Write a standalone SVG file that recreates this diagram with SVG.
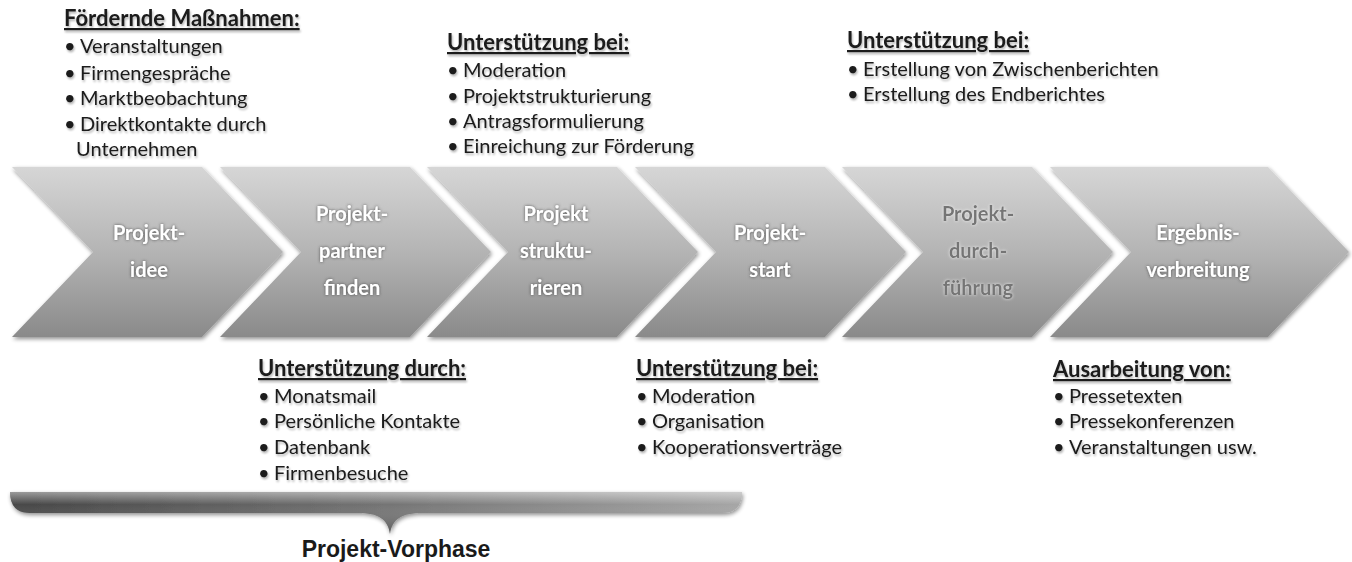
<svg xmlns="http://www.w3.org/2000/svg" width="1352" height="562" viewBox="0 0 1352 562">
<defs>
<style>
.chev{fill:url(#chevGrad);filter:url(#shadow);}
.lbl{font-family:Lato,"Liberation Sans",sans-serif;font-weight:bold;font-size:20px;fill:#ffffff;text-anchor:middle;filter:url(#darkGlow);}
.lbl.gray{fill:#747474;filter:url(#lightGlow);}
.note{font-family:Lato,"Liberation Sans",sans-serif;font-size:20px;fill:#1a1a1a;filter:url(#txtShadow);}
.head{font-weight:bold;font-size:22px;text-decoration:underline;}
.phase{font-family:"Liberation Sans",Arial,sans-serif;font-weight:bold;font-size:23px;fill:#1a1a1a;text-anchor:middle;}
</style>
<linearGradient id="chevGrad" x1="0" y1="0" x2="0" y2="1">
<stop offset="0" stop-color="#d6d6d6"/>
<stop offset="0.5" stop-color="#b4b4b4"/>
<stop offset="1" stop-color="#8a8a8a"/>
</linearGradient>
<linearGradient id="braceH" x1="0" y1="0" x2="1" y2="0">
<stop offset="0" stop-color="#474747"/>
<stop offset="0.5" stop-color="#737373"/>
<stop offset="1" stop-color="#a6a6a6"/>
</linearGradient>
<linearGradient id="braceV" x1="0" y1="0" x2="0" y2="1">
<stop offset="0" stop-color="#ffffff" stop-opacity="0.45"/>
<stop offset="0.3" stop-color="#ffffff" stop-opacity="0"/>
<stop offset="1" stop-color="#000000" stop-opacity="0.3"/>
</linearGradient>
<filter id="shadow" x="-10%" y="-10%" width="125%" height="130%">
<feGaussianBlur in="SourceAlpha" stdDeviation="2"/>
<feOffset dx="1" dy="2" result="b"/>
<feComponentTransfer in="b" result="s"><feFuncA type="linear" slope="0.45"/></feComponentTransfer>
<feMerge><feMergeNode in="s"/><feMergeNode in="SourceGraphic"/></feMerge>
</filter>
<filter id="darkGlow" x="-20%" y="-40%" width="140%" height="180%">
<feGaussianBlur in="SourceAlpha" stdDeviation="1.8" result="b"/>
<feFlood flood-color="#3a3a3a" flood-opacity="0.85"/>
<feComposite in2="b" operator="in" result="g"/>
<feMerge><feMergeNode in="g"/><feMergeNode in="SourceGraphic"/></feMerge>
</filter>
<filter id="lightGlow" x="-20%" y="-40%" width="140%" height="180%">
<feGaussianBlur in="SourceAlpha" stdDeviation="1.6" result="b"/>
<feFlood flood-color="#ffffff" flood-opacity="0.8"/>
<feComposite in2="b" operator="in" result="g"/>
<feMerge><feMergeNode in="g"/><feMergeNode in="SourceGraphic"/></feMerge>
</filter>
<filter id="txtShadow" x="-5%" y="-20%" width="110%" height="150%">
<feGaussianBlur in="SourceAlpha" stdDeviation="0.8"/>
<feOffset dx="1" dy="1.5" result="b"/>
<feComponentTransfer in="b" result="s"><feFuncA type="linear" slope="0.3"/></feComponentTransfer>
<feMerge><feMergeNode in="s"/><feMergeNode in="SourceGraphic"/></feMerge>
</filter>
</defs>
<rect width="1352" height="562" fill="#ffffff"/>

<g id="chevron-projektidee">
<polygon class="chev" points="12,167 202,167 283,252 202,337 12,337 93,252"/>
<text class="lbl" x="149" y="240">Projekt-</text>
<text class="lbl" x="149" y="277">idee</text>
</g>
<g id="chevron-projektpartner">
<polygon class="chev" points="220,167 410,167 491,252 410,337 220,337 301,252"/>
<text class="lbl" x="352" y="221">Projekt-</text>
<text class="lbl" x="352" y="258">partner</text>
<text class="lbl" x="352" y="295">finden</text>
</g>
<g id="chevron-strukturieren">
<polygon class="chev" points="427,167 617,167 698,252 617,337 427,337 508,252"/>
<text class="lbl" x="556" y="221">Projekt</text>
<text class="lbl" x="556" y="258">struktu-</text>
<text class="lbl" x="556" y="295">rieren</text>
</g>
<g id="chevron-projektstart">
<polygon class="chev" points="635,167 825,167 906,252 825,337 635,337 716,252"/>
<text class="lbl" x="770" y="240">Projekt-</text>
<text class="lbl" x="770" y="277">start</text>
</g>
<g id="chevron-durchfuehrung">
<polygon class="chev" points="842,167 1032,167 1113,252 1032,337 842,337 923,252"/>
<text class="lbl gray" x="978" y="221">Projekt-</text>
<text class="lbl gray" x="978" y="258">durch-</text>
<text class="lbl gray" x="978" y="295">führung</text>
</g>
<g id="chevron-ergebnis">
<polygon class="chev" points="1050,167 1268,167 1349,252 1268,337 1050,337 1131,252"/>
<text class="lbl" x="1198" y="240">Ergebnis-</text>
<text class="lbl" x="1198" y="277">verbreitung</text>
</g>

<g id="note-foerdernde-massnahmen">
<text class="note head" x="64" y="26">Fördernde Maßnahmen:</text>
<text class="note" x="64" y="53">•</text><text class="note" x="80" y="53">Veranstaltungen</text>
<text class="note" x="64" y="80">•</text><text class="note" x="80" y="80">Firmengespräche</text>
<text class="note" x="64" y="105">•</text><text class="note" x="80" y="105">Marktbeobachtung</text>
<text class="note" x="64" y="131">•</text><text class="note" x="80" y="131">Direktkontakte durch</text>
<text class="note" x="76" y="156">Unternehmen</text>
</g>

<g id="note-strukturieren">
<text class="note head" x="447" y="50">Unterstützung bei:</text>
<text class="note" x="447" y="77">•</text><text class="note" x="463" y="77">Moderation</text>
<text class="note" x="447" y="103">•</text><text class="note" x="463" y="103">Projektstrukturierung</text>
<text class="note" x="447" y="128">•</text><text class="note" x="463" y="128">Antragsformulierung</text>
<text class="note" x="447" y="153">•</text><text class="note" x="463" y="153">Einreichung zur Förderung</text>
</g>

<g id="note-durchfuehrung">
<text class="note head" x="847" y="48">Unterstützung bei:</text>
<text class="note" x="847" y="76">•</text><text class="note" x="863" y="76">Erstellung von Zwischenberichten</text>
<text class="note" x="847" y="101">•</text><text class="note" x="863" y="101">Erstellung des Endberichtes</text>
</g>

<g id="note-partner">
<text class="note head" x="258" y="376">Unterstützung durch:</text>
<text class="note" x="258" y="403">•</text><text class="note" x="274" y="403">Monatsmail</text>
<text class="note" x="258" y="428">•</text><text class="note" x="274" y="428">Persönliche Kontakte</text>
<text class="note" x="258" y="454">•</text><text class="note" x="274" y="454">Datenbank</text>
<text class="note" x="258" y="480">•</text><text class="note" x="274" y="480">Firmenbesuche</text>
</g>

<g id="note-start">
<text class="note head" x="636" y="376">Unterstützung bei:</text>
<text class="note" x="636" y="403">•</text><text class="note" x="652" y="403">Moderation</text>
<text class="note" x="636" y="428">•</text><text class="note" x="652" y="428">Organisation</text>
<text class="note" x="636" y="454">•</text><text class="note" x="652" y="454">Kooperationsverträge</text>
</g>

<g id="note-ergebnis">
<text class="note head" x="1053" y="377">Ausarbeitung von:</text>
<text class="note" x="1053" y="403">•</text><text class="note" x="1069" y="403">Pressetexten</text>
<text class="note" x="1053" y="428">•</text><text class="note" x="1069" y="428">Pressekonferenzen</text>
<text class="note" x="1053" y="454">•</text><text class="note" x="1069" y="454">Veranstaltungen usw.</text>
</g>

<g id="vorphase-brace">
<path d="M10,492 H742 Q742,513 722,513 H422 C402,513 392,519 390,534 C388,519 378,513 358,513 H30 Q10,513 10,492 Z" fill="url(#braceH)" filter="url(#shadow)"/>
<path d="M10,492 H742 Q742,513 722,513 H422 C402,513 392,519 390,534 C388,519 378,513 358,513 H30 Q10,513 10,492 Z" fill="url(#braceV)"/>
<text class="phase" x="396" y="557">Projekt-Vorphase</text>
</g>
</svg>
